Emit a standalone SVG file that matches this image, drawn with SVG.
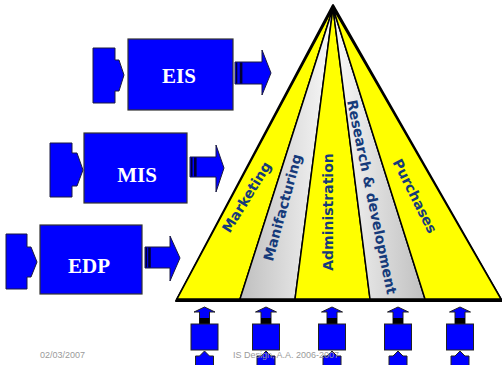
<svg xmlns="http://www.w3.org/2000/svg" width="502" height="365" viewBox="0 0 502 365">
<defs>
<linearGradient id="gr" gradientUnits="userSpaceOnUse" x1="190" y1="0" x2="476" y2="0">
<stop offset="0" stop-color="#a0a0a0"/>
<stop offset="0.5" stop-color="#f8f8f8"/>
<stop offset="1" stop-color="#a0a0a0"/>
</linearGradient>
</defs>
<style>
.blue{fill:#0000ff;stroke:#1a1a40;stroke-width:1}
.bar{fill:#000033}
.box{fill:#0000ff;stroke:#333;stroke-width:1.2}
.bt{font-family:"Liberation Serif",serif;font-weight:bold;font-size:21px;fill:#fff;text-anchor:middle}
.y{fill:#ffff00;stroke:#000;stroke-width:1.5;stroke-linejoin:round}
.g{fill:url(#gr);stroke:#000;stroke-width:1.5;stroke-linejoin:round}
.lab{font-family:"DejaVu Sans",Verdana,sans-serif;font-weight:bold;font-size:14px;fill:#153a7a;text-anchor:middle}
.foot{font-family:"Liberation Sans",Arial,sans-serif;font-size:9px;fill:#9a9a9a}
.unit{fill:#0000ff;stroke:#222;stroke-width:1}
</style>

<g id="eis">
<polygon class="blue" points="93,48 115,48 115,60 119,60 124,75 119,91 115,91 115,103 93,103"/>
<rect class="box" x="128" y="39" width="105" height="71"/>
<text class="bt" x="179" y="83">EIS</text>
<polygon class="blue" points="235,62 262,62 262,50 271,73 262,95 262,84 235,84"/>
<rect class="bar" x="236" y="62.5" width="1.3" height="21"/>
<rect class="bar" x="239.8" y="62.5" width="2.6" height="21"/>
</g>

<g id="mis">
<polygon class="blue" points="50,143 72,143 72,153 77,153 83,170 77,186 72,186 72,197 50,197"/>
<rect class="box" x="84" y="133" width="103" height="70"/>
<text class="bt" x="137" y="182">MIS</text>
<polygon class="blue" points="190,157 216,157 216,145 224,168 216,192 216,177 190,177"/>
<rect class="bar" x="191" y="157.5" width="1.5" height="19"/>
<rect class="bar" x="194" y="157.5" width="2.6" height="19"/>
</g>

<g id="edp">
<polygon class="blue" points="6,234 27,234 27,247 31,247 37,262 31,277 27,277 27,289 6,289"/>
<rect class="box" x="40" y="225" width="102" height="69"/>
<text class="bt" x="89" y="273">EDP</text>
<polygon class="blue" points="145,247 170,247 170,236 180,258 170,281 170,268 145,268"/>
<rect class="bar" x="145.7" y="247.5" width="1.4" height="20"/>
<rect class="bar" x="148.2" y="247.5" width="2.6" height="20"/>
</g>

<g id="pyramid">
<polygon points="333,5 176,301 502,301" fill="#000" stroke="#000" stroke-width="2" stroke-linejoin="round"/>
<polygon id="marketing" class="y" points="333,8 177,299 240,299"/>
<polygon id="manufacturing" class="g" points="333,8 240,299 295,299"/>
<polygon id="administration" class="y" points="333,8 295,299 370,299"/>
<polygon id="research" class="g" points="333,8 370,299 425,299"/>
<polygon id="purchases" class="y" points="333,8 425,299 501,299"/>
<line x1="176" y1="300.5" x2="502" y2="300.5" stroke="#000" stroke-width="3"/>
<text class="lab" transform="translate(250.8,199.6) rotate(-58.4)">Marketing</text>
<text class="lab" transform="translate(287.3,208.8) rotate(-74.6)">Manifacturing</text>
<text class="lab" transform="translate(333,212) rotate(-90)">Administration</text>
<text class="lab" transform="translate(367,198) rotate(78.3)">Research &amp; development</text>
<text class="lab" transform="translate(410.5,198.3) rotate(63.4)">Purchases</text>
</g>

<g id="units">
<g id="u1" transform="translate(204.5,0)">
<polygon class="unit" points="-5,324 -5,312 -10.5,312 0,307 10.5,312 5,312 5,324"/><rect x="-5" y="318" width="10" height="6" fill="#000"/>
<rect class="unit" x="-13.5" y="324" width="27" height="26"/>
<polygon class="unit" points="-9,366 -9,356 -5,356 0,351 5,356 9,356 9,366"/>
</g>
<g id="u2" transform="translate(266,0)">
<polygon class="unit" points="-5,324 -5,312 -10.5,312 0,307 10.5,312 5,312 5,324"/><rect x="-5" y="318" width="10" height="6" fill="#000"/>
<rect class="unit" x="-13.5" y="324" width="27" height="26"/>
<polygon class="unit" points="-9,366 -9,356 -5,356 0,351 5,356 9,356 9,366"/>
</g>
<g id="u3" transform="translate(332,0)">
<polygon class="unit" points="-5,324 -5,312 -10.5,312 0,307 10.5,312 5,312 5,324"/><rect x="-5" y="318" width="10" height="6" fill="#000"/>
<rect class="unit" x="-13.5" y="324" width="27" height="26"/>
<polygon class="unit" points="-9,366 -9,356 -5,356 0,351 5,356 9,356 9,366"/>
</g>
<g id="u4" transform="translate(398,0)">
<polygon class="unit" points="-5,324 -5,312 -10.5,312 0,307 10.5,312 5,312 5,324"/><rect x="-5" y="318" width="10" height="6" fill="#000"/>
<rect class="unit" x="-13.5" y="324" width="27" height="26"/>
<polygon class="unit" points="-9,366 -9,356 -5,356 0,351 5,356 9,356 9,366"/>
</g>
<g id="u5" transform="translate(460,0)">
<polygon class="unit" points="-5,324 -5,312 -10.5,312 0,307 10.5,312 5,312 5,324"/><rect x="-5" y="318" width="10" height="6" fill="#000"/>
<rect class="unit" x="-13.5" y="324" width="27" height="26"/>
<polygon class="unit" points="-9,366 -9,356 -5,356 0,351 5,356 9,356 9,366"/>
</g>
</g>

<g id="footer">
<text class="foot" x="40" y="358">02/03/2007</text>
<text class="foot" x="233" y="358">IS Design, A.A. 2006-2007</text>
</g>
</svg>
